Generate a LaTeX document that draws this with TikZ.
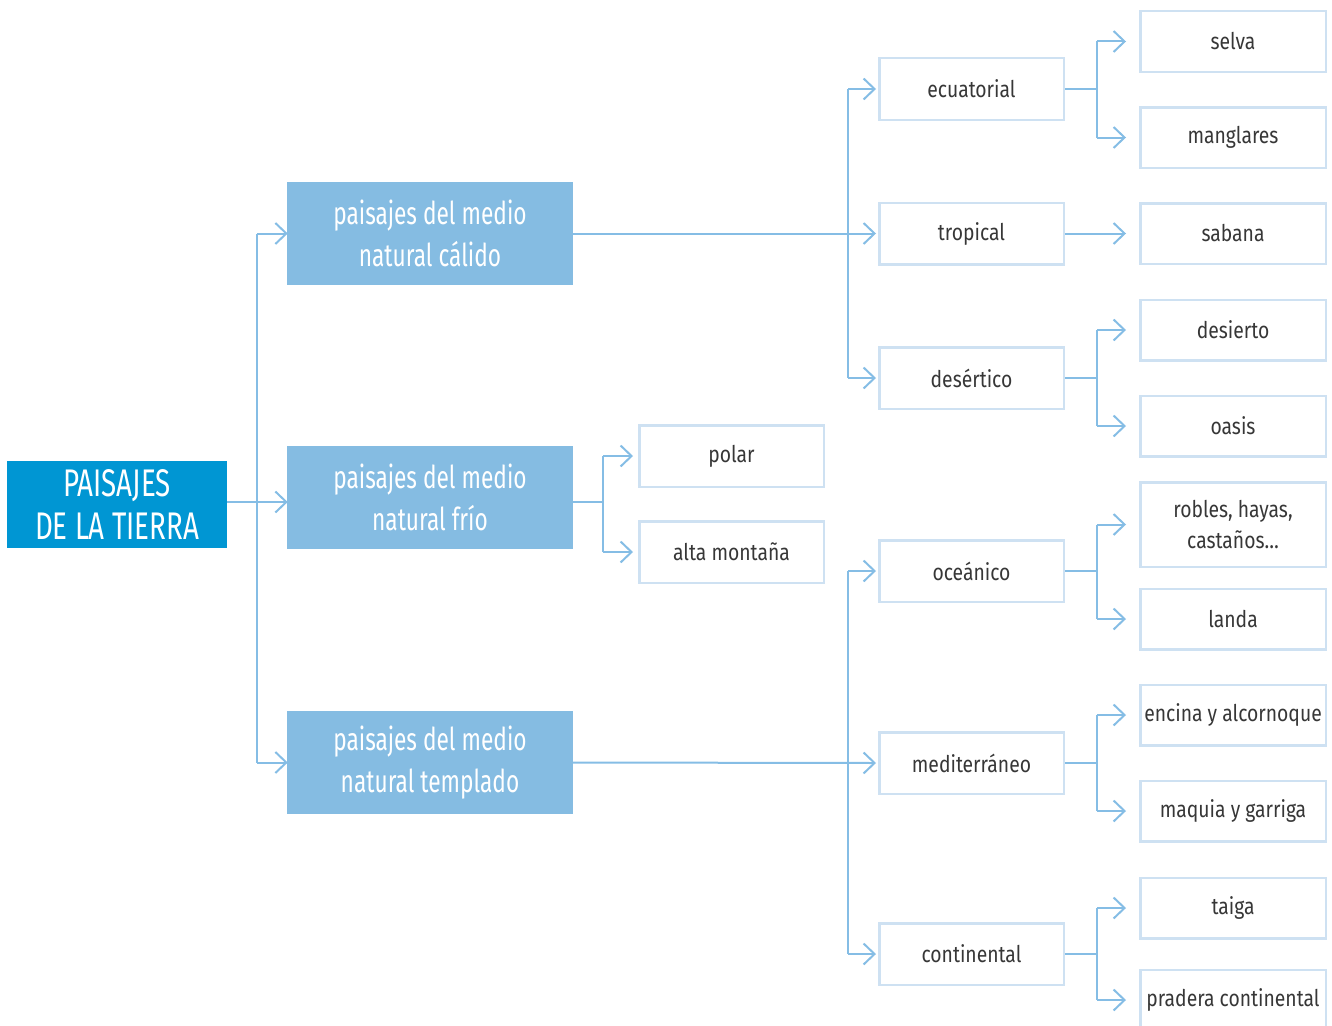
\documentclass[tikz,border=0pt]{standalone}
\usepackage{fontspec}
\usetikzlibrary{arrows.meta,calc}
\newfontfamily\rootfont[FakeStretch=0.72]{Fira Sans}
\newfontfamily\headfont[FakeStretch=0.72]{Fira Sans}
\newfontfamily\leaffont[FakeStretch=0.84]{Fira Sans}
\definecolor{mainblue}{RGB}{0,150,211}
\definecolor{groupblue}{RGB}{133,188,226}
\definecolor{linkblue}{RGB}{133,189,229}
\definecolor{frameblue}{RGB}{206,225,242}
\definecolor{leaftext}{RGB}{55,55,55}
\tikzset{
  rootbox/.style={fill=mainblue, text=white, minimum width=220pt, minimum height=87pt,
    align=center, font=\rootfont\fontsize{38.5}{43}\selectfont, inner sep=0pt},
  groupbox/.style={fill=groupblue, text=white, minimum width=286pt, minimum height=103pt,
    align=center, font=\headfont\fontsize{31.5}{42}\selectfont, inner sep=0pt},
  midbox/.style={draw=frameblue, line width=2.5pt, fill=white, minimum width=184.5pt,
    minimum height=61.5pt, align=center, text=leaftext,
    font=\leaffont\fontsize{23}{31}\selectfont, inner sep=0pt},
  leafbox/.style={midbox, minimum width=185.5pt, minimum height=60.5pt},
  link/.style={draw=linkblue, line width=2pt},
  arr/.style={link, -{Straight Barb[length=11pt,width=21pt]}},
}
\begin{document}
\begin{tikzpicture}[x=1pt,y=-1pt]
\useasboundingbox (0,0) rectangle (1332,1025);

% root and the three main groups
\node[rootbox] (root) at (117,504.5) {PAISAJES\\DE LA TIERRA};
\node[groupbox] (calido) at (430,233.5) {paisajes del medio\\natural cálido};
\node[groupbox] (frio) at (430,497.5) {paisajes del medio\\natural frío};
\node[groupbox] (templado) at (430,762.5) {paisajes del medio\\natural templado};

% climate types
\node[midbox] (ecuatorial) at (971.5,89) {ecuatorial};
\node[midbox] (tropical) at (971.5,233.5) {tropical};
\node[midbox] (desertico) at (971.5,378) {desértico};
\node[midbox] (polar) at (731.5,456) {polar};
\node[midbox] (alta) at (731.5,552) {alta montaña};
\node[midbox] (oceanico) at (971.5,571) {oceánico};
\node[midbox] (medit) at (971.5,763) {mediterráneo};
\node[midbox] (contin) at (971.5,954) {continental};

% landscapes
\node[leafbox] (selva) at (1233,41.5) {selva};
\node[leafbox] (manglares) at (1233,137.5) {manglares};
\node[leafbox] (sabana) at (1233,233.5) {sabana};
\node[leafbox] (desierto) at (1233,330) {desierto};
\node[leafbox] (oasis) at (1233,426) {oasis};
\node[leafbox, minimum height=84.5pt] (robles) at (1233,524.5) {robles, hayas,\\castaños…};
\node[leafbox] (landa) at (1233,619) {landa};
\node[leafbox] (encina) at (1233,715) {encina y alcornoque};
\node[leafbox] (maquia) at (1233,811) {maquia y garriga};
\node[leafbox] (taiga) at (1233,908) {taiga};
\node[leafbox] (pradera) at (1233,1000) {pradera continental};

% fork columns
\coordinate (c0) at (257,0);
\coordinate (c1) at (848,0);
\coordinate (c2) at (603,0);
\coordinate (c3) at (1097,0);

% root to groups
\draw[link] (c0 |- calido.west) -- (c0 |- templado.west);
\draw[arr] (root.east |- 0,502) -- ([xshift=1pt]frio.west |- 0,502);
\draw[arr] (c0 |- calido.west) -- ([xshift=1pt]calido.west);
\draw[arr] (c0 |- templado.west) -- ([xshift=1pt]templado.west);

% warm climates
\draw[arr] (calido.east) -- ([xshift=-2pt]tropical.west);
\draw[link] (c1 |- ecuatorial.west) -- (c1 |- desertico.west);
\draw[arr] (c1 |- ecuatorial.west) -- ([xshift=-2pt]ecuatorial.west);
\draw[arr] (c1 |- desertico.west) -- ([xshift=-2pt]desertico.west);

% cold climates
\draw[link] (frio.east |- 0,502) -- (c2 |- 0,502);
\draw[link] (c2 |- polar.west) -- (c2 |- alta.west);
\draw[arr] (c2 |- polar.west) -- ([xshift=-5pt]polar.west);
\draw[arr] (c2 |- alta.west) -- ([xshift=-5pt]alta.west);

% temperate climates
\draw[arr] (templado.east) -- ([xshift=-2pt]medit.west);
\draw[link] (c1 |- oceanico.west) -- (c1 |- contin.west);
\draw[arr] (c1 |- oceanico.west) -- ([xshift=-2pt]oceanico.west);
\draw[arr] (c1 |- contin.west) -- ([xshift=-2pt]contin.west);

% climates to landscapes
\draw[arr] (tropical.east) -- ([xshift=-13pt]sabana.west);
\foreach \m/\a/\b in {ecuatorial/selva/manglares, desertico/desierto/oasis,
                      oceanico/robles/landa, medit/encina/maquia, contin/taiga/pradera}{
  \draw[link] (\m.east) -- (c3 |- \m.east);
  \draw[link] (c3 |- \a.west) -- (c3 |- \b.west);
  \draw[arr] (c3 |- \a.west) -- ([xshift=-13pt]\a.west);
  \draw[arr] (c3 |- \b.west) -- ([xshift=-13pt]\b.west);
}
\end{tikzpicture}
\end{document}
